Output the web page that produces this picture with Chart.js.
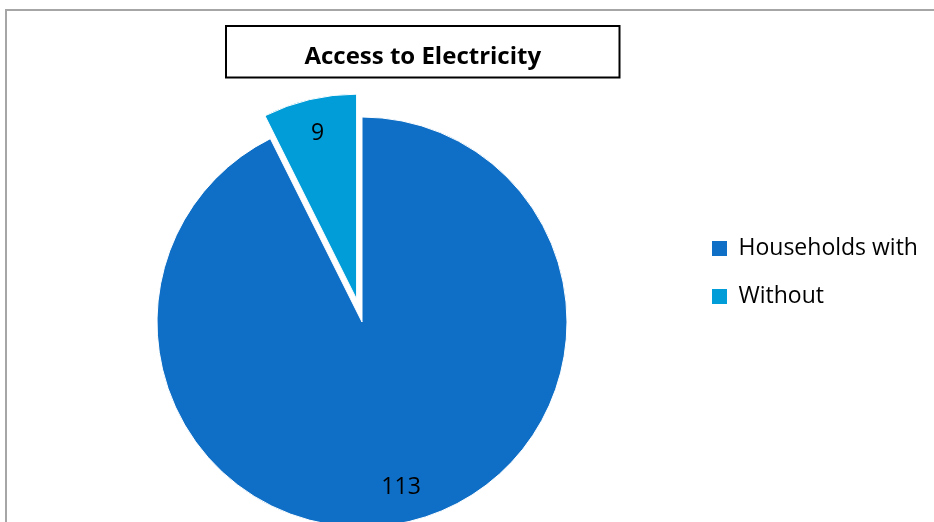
<!DOCTYPE html>
<html>
<head>
<meta charset="utf-8">
<title>Access to Electricity</title>
<script src="https://cdn.jsdelivr.net/npm/chart.js@4.4.0/dist/chart.umd.min.js"></script>
<style>
  html, body { margin: 0; padding: 0; background: #fff; overflow: hidden; }
  body { width: 934px; height: 522px; position: relative; }
  #frame {
    position: absolute; left: 5px; top: 9px; width: 1200px; height: 800px;
    border-top: 2px solid #a6a6a6; border-left: 2px solid #a6a6a6;
  }
  #chart { position: absolute; left: 0; top: 0; }
</style>
</head>
<body>
<div id="frame"></div>
<canvas id="chart" width="934" height="560"></canvas>
<script>
const TITLE = 'Access to Electricity';
const categories = ['Households with', 'Without'];
const households = [113, 9];
const sliceColors = ['#0F6FC6', '#009DD9'];
const explode = [0, 23.5]; // px each slice is pulled out from the centre

// pulls slices outwards along their middle angle after layout
const explodePlugin = {
  id: 'explode',
  afterDatasetsUpdate(chart) {
    const arcs = chart.getDatasetMeta(0).data;
    arcs.forEach((arc, i) => {
      const d = explode[i] || 0;
      if (!d) return;
      const mid = (arc.startAngle + arc.endAngle) / 2;
      arc.x += Math.cos(mid) * d;
      arc.y += Math.sin(mid) * d;
    });
  }
};

// value labels inside each slice
const sliceLabels = {
  id: 'sliceLabels',
  afterDatasetsDraw(chart, args, opts) {
    const ctx = chart.ctx;
    const values = chart.data.datasets[0].data;
    ctx.save();
    ctx.font = opts.font;
    ctx.fillStyle = opts.color;
    ctx.textAlign = 'center';
    ctx.textBaseline = 'middle';
    chart.getDatasetMeta(0).data.forEach((arc, i) => {
      const mid = (arc.startAngle + arc.endAngle) / 2;
      const r = arc.outerRadius * opts.at;
      ctx.fillText(String(values[i]), arc.x + Math.cos(mid) * r, arc.y + Math.sin(mid) * r);
    });
    ctx.restore();
  }
};

// boxed title at the top
const titleBox = {
  id: 'titleBox',
  afterDraw(chart, args, opts) {
    const ctx = chart.ctx;
    ctx.save();
    ctx.lineWidth = 2;
    ctx.strokeStyle = '#000';
    ctx.strokeRect(opts.box[0], opts.box[1], opts.box[2], opts.box[3]);
    ctx.font = opts.font;
    ctx.fillStyle = '#000';
    ctx.textAlign = 'center';
    ctx.textBaseline = 'alphabetic';
    ctx.fillText(opts.text, opts.box[0] + opts.box[2] / 2, opts.baseline);
    ctx.restore();
  }
};

Chart.defaults.font.family = "'Open Sans', sans-serif";

new Chart(document.getElementById('chart'), {
  type: 'pie',
  data: {
    labels: categories,
    datasets: [{
      data: households,
      backgroundColor: sliceColors,
      borderColor: '#fff',
      borderWidth: 1,
      radius: 205,
      clip: false
    }]
  },
  options: {
    responsive: false,
    animation: false,
    events: [],
    layout: { padding: { left: 37, top: 212, right: 12, bottom: 128 } },
    plugins: {
      tooltip: { enabled: false },
      legend: {
        position: 'right',
        align: 'start',
        fullSize: false,
        maxWidth: 235,
        labels: {
          boxWidth: 15,
          boxHeight: 15,
          padding: 25,
          color: '#000',
          font: { size: 23 },
          generateLabels(chart) {
            return Chart.overrides.pie.plugins.legend.labels.generateLabels(chart)
              .map(item => Object.assign(item, { lineWidth: 0 }));
          }
        }
      },
      sliceLabels: { font: "23px 'Open Sans', sans-serif", color: '#000', at: 0.83 },
      titleBox: {
        text: TITLE,
        font: "bold 24px 'Open Sans', sans-serif",
        box: [226, 26, 393.5, 51.5],
        baseline: 64
      }
    }
  },
  plugins: [explodePlugin, sliceLabels, titleBox]
});
</script>
</body>
</html>
